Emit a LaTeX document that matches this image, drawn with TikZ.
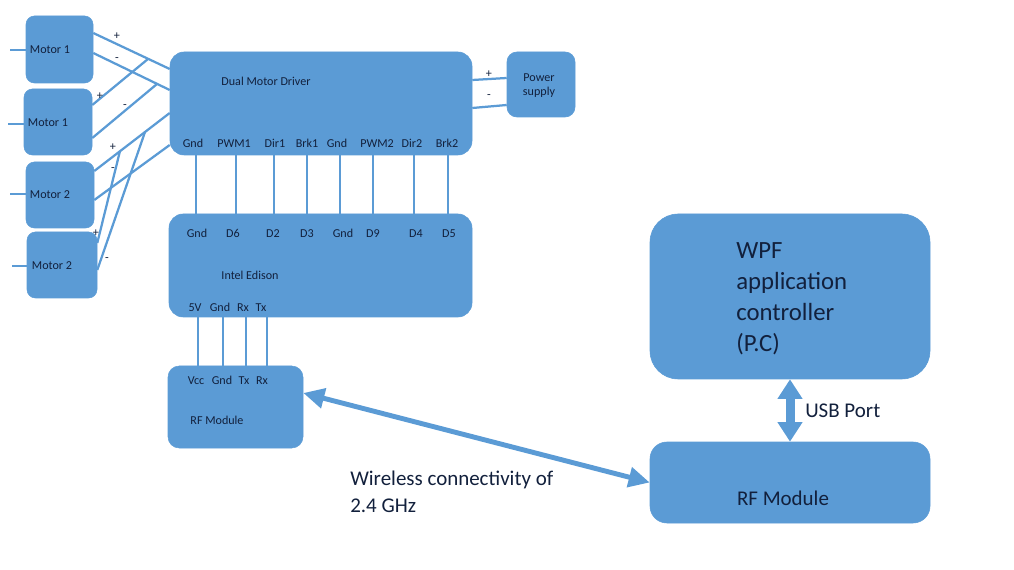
\documentclass[tikz,border=0pt]{standalone}
\usepackage{fontspec}
\setmainfont{Carlito}
\usetikzlibrary{arrows.meta, fit}

\definecolor{boxblue}{RGB}{91,155,213}
\definecolor{textnavy}{RGB}{18,32,60}

\tikzset{
	box/.style={draw=boxblue, fill=boxblue, inner sep=0pt, rounded corners=#1},
	box/.default=6pt,
	wire/.style={draw=boxblue, line width=1.6pt},
	lbl/.style={text=textnavy, font=\fontsize{8.6}{10}\selectfont, inner sep=1pt, text height=1.5ex, text depth=.25ex},
	big/.style={text=textnavy, font=\fontsize{14.9}{19}\selectfont, align=left, inner sep=0pt},
	huge/.style={text=textnavy, font=\fontsize{17.6}{22}\selectfont, align=left, inner sep=0pt}
}

\begin{document}
\begin{tikzpicture}[x=0.025cm, y=-0.025cm]
	\useasboundingbox (0,0) rectangle (1014,570);

	% Motoren
	\node[box, fit={(26,16) (93,83)}] (m1a) {};
	\node[lbl] (m1alabel) at (50,49) {Motor 1};
	\node[box, fit={(24,89) (92,155)}] (m1b) {};
	\node[lbl] (m1blabel) at (48,122) {Motor 1};
	\node[box, fit={(26,162) (94,228)}] (m2a) {};
	\node[lbl] (m2alabel) at (50,194) {Motor 2};
	\node[box, fit={(27,232) (97,298)}] (m2b) {};
	\node[lbl] (m2blabel) at (52,265) {Motor 2};
	% Zuleitungen links
	\foreach \m/\x/\y in {m1a/10/50, m1b/8/124, m2a/10/194, m2b/12/266} {
		\coordinate (s\m) at (\x, \y);
		\draw[wire] (s\m) -- (s\m -| \m.west);
	}

	% Motortreiber
	\node[box=10pt, fit={(170,52) (472,155)}] (drv) {};
	\node[lbl] (drvname) at (266,81) {Dual Motor Driver};
	\foreach \x/\t [count=\i] in {193/Gnd, 234/PWM1, 275/Dir1, 307/Brk1, 337/Gnd, 377/PWM2, 412/Dir2, 447/Brk2}
		\node[lbl] (dp\i) at (\x, 143) {\t};

	% Motorleitungen
	\coordinate (j1) at (148,59);
	\coordinate (j2) at (157,84);
	\coordinate (j3) at (120,151);
	\coordinate (j4) at (145,132);
	\draw[wire] (m1a.east |- 0,33) -- (drv.west |- 0,69);
	\draw[wire] (m1a.east |- 0,53) -- (drv.west |- 0,90);
	\draw[wire] (m1b.east |- 0,105) -- (j1);
	\draw[wire] (m1b.east |- 0,138) -- (j2);
	\draw[wire] (m2a.east |- 0,171) -- (drv.west |- 0,113);
	\draw[wire] (m2a.east |- 0,200) -- (drv.west |- 0,145);
	\draw[wire] (m2b.east |- 0,243) -- (j3);
	\draw[wire] (m2b.east |- 0,270) -- (j4);
	% Polaritaet
	\foreach \x/\y/\s [count=\i] in {117/35/+, 117/57/-, 100/95/+, 125/104/-, 113/146/+, 113/167/-, 96/232/+, 107/257/-}
		\node[lbl] (sg\i) at (\x, \y) {\s};

	% Versorgung
	\node[box=7pt, fit={(507,52) (575,117)}] (psu) {};
	\node[lbl, align=center, text height=, text depth=] (psulabel) at (539,86) {Power\\supply};
	\draw[wire] (drv.east |- 0,80) -- (psu.west |- 0,78);
	\draw[wire] (drv.east |- 0,108) -- (psu.west |- 0,105);
	\node[lbl] (psplus) at (489,73) {+};
	\node[lbl] (psminus) at (489,94) {-};

	% Intel Edison
	\node[box=10pt, fit={(169,214) (472,317)}] (edi) {};
	\node[lbl] (ediname) at (250,275) {Intel Edison};
	\foreach \x/\t [count=\i] in {197/Gnd, 233/D6, 273/D2, 307/D3, 343/Gnd, 373/D9, 416/D4, 449/D5}
		\node[lbl] (ep\i) at (\x, 233) {\t};
	\foreach \x/\t [count=\i] in {195/5V, 220/Gnd, 243/Rx, 261/Tx}
		\node[lbl] (eb\i) at (\x, 307) {\t};
	\foreach \x [count=\i] in {196, 236, 274, 307, 340, 373, 414, 448} {
		\coordinate (dw\i) at (\x, 0);
		\draw[wire] (drv.south -| dw\i) -- (edi.north -| dw\i);
	}

	% RF Modul links
	\node[box=8pt, fit={(168,366) (303,448)}] (rfl) {};
	\node[lbl] (rflname) at (217,420) {RF Module};
	\foreach \x/\t [count=\i] in {196/Vcc, 222/Gnd, 244/Tx, 262/Rx}
		\node[lbl] (rp\i) at (\x, 380) {\t};
	\foreach \x [count=\i] in {198, 223, 246, 267} {
		\coordinate (rw\i) at (\x, 0);
		\draw[wire] (edi.south -| rw\i) -- (rfl.north -| rw\i);
	}

	% PC Seite
	\node[box=20pt, fit={(650,214) (930,379)}] (wpf) {};
	\node[huge, anchor=west] (wpftext) at (736,299) {WPF\\application\\controller\\(P.C)};
	\node[box=12pt, fit={(650,442) (930,523)}] (rfr) {};
	\node[big] (rfrname) at (783,498) {RF Module};
	\draw[boxblue, line width=6.4pt, {Triangle[length=14pt, width=17pt]}-{Triangle[length=14pt, width=17pt]}] (wpf.south) -- (rfr.north);
	\node[big, anchor=west] (usb) at (805,411) {USB Port};

	% Funkstrecke
	\draw[boxblue, line width=3.5pt, {Triangle[length=15pt, width=14pt]}-{Triangle[length=15pt, width=14pt]}] (rfl.east |- 0,393) -- (rfr.west);
	\node[big, anchor=west] (wireless) at (350,492) {Wireless connectivity of\\2.4 GHz};
\end{tikzpicture}
\end{document}
